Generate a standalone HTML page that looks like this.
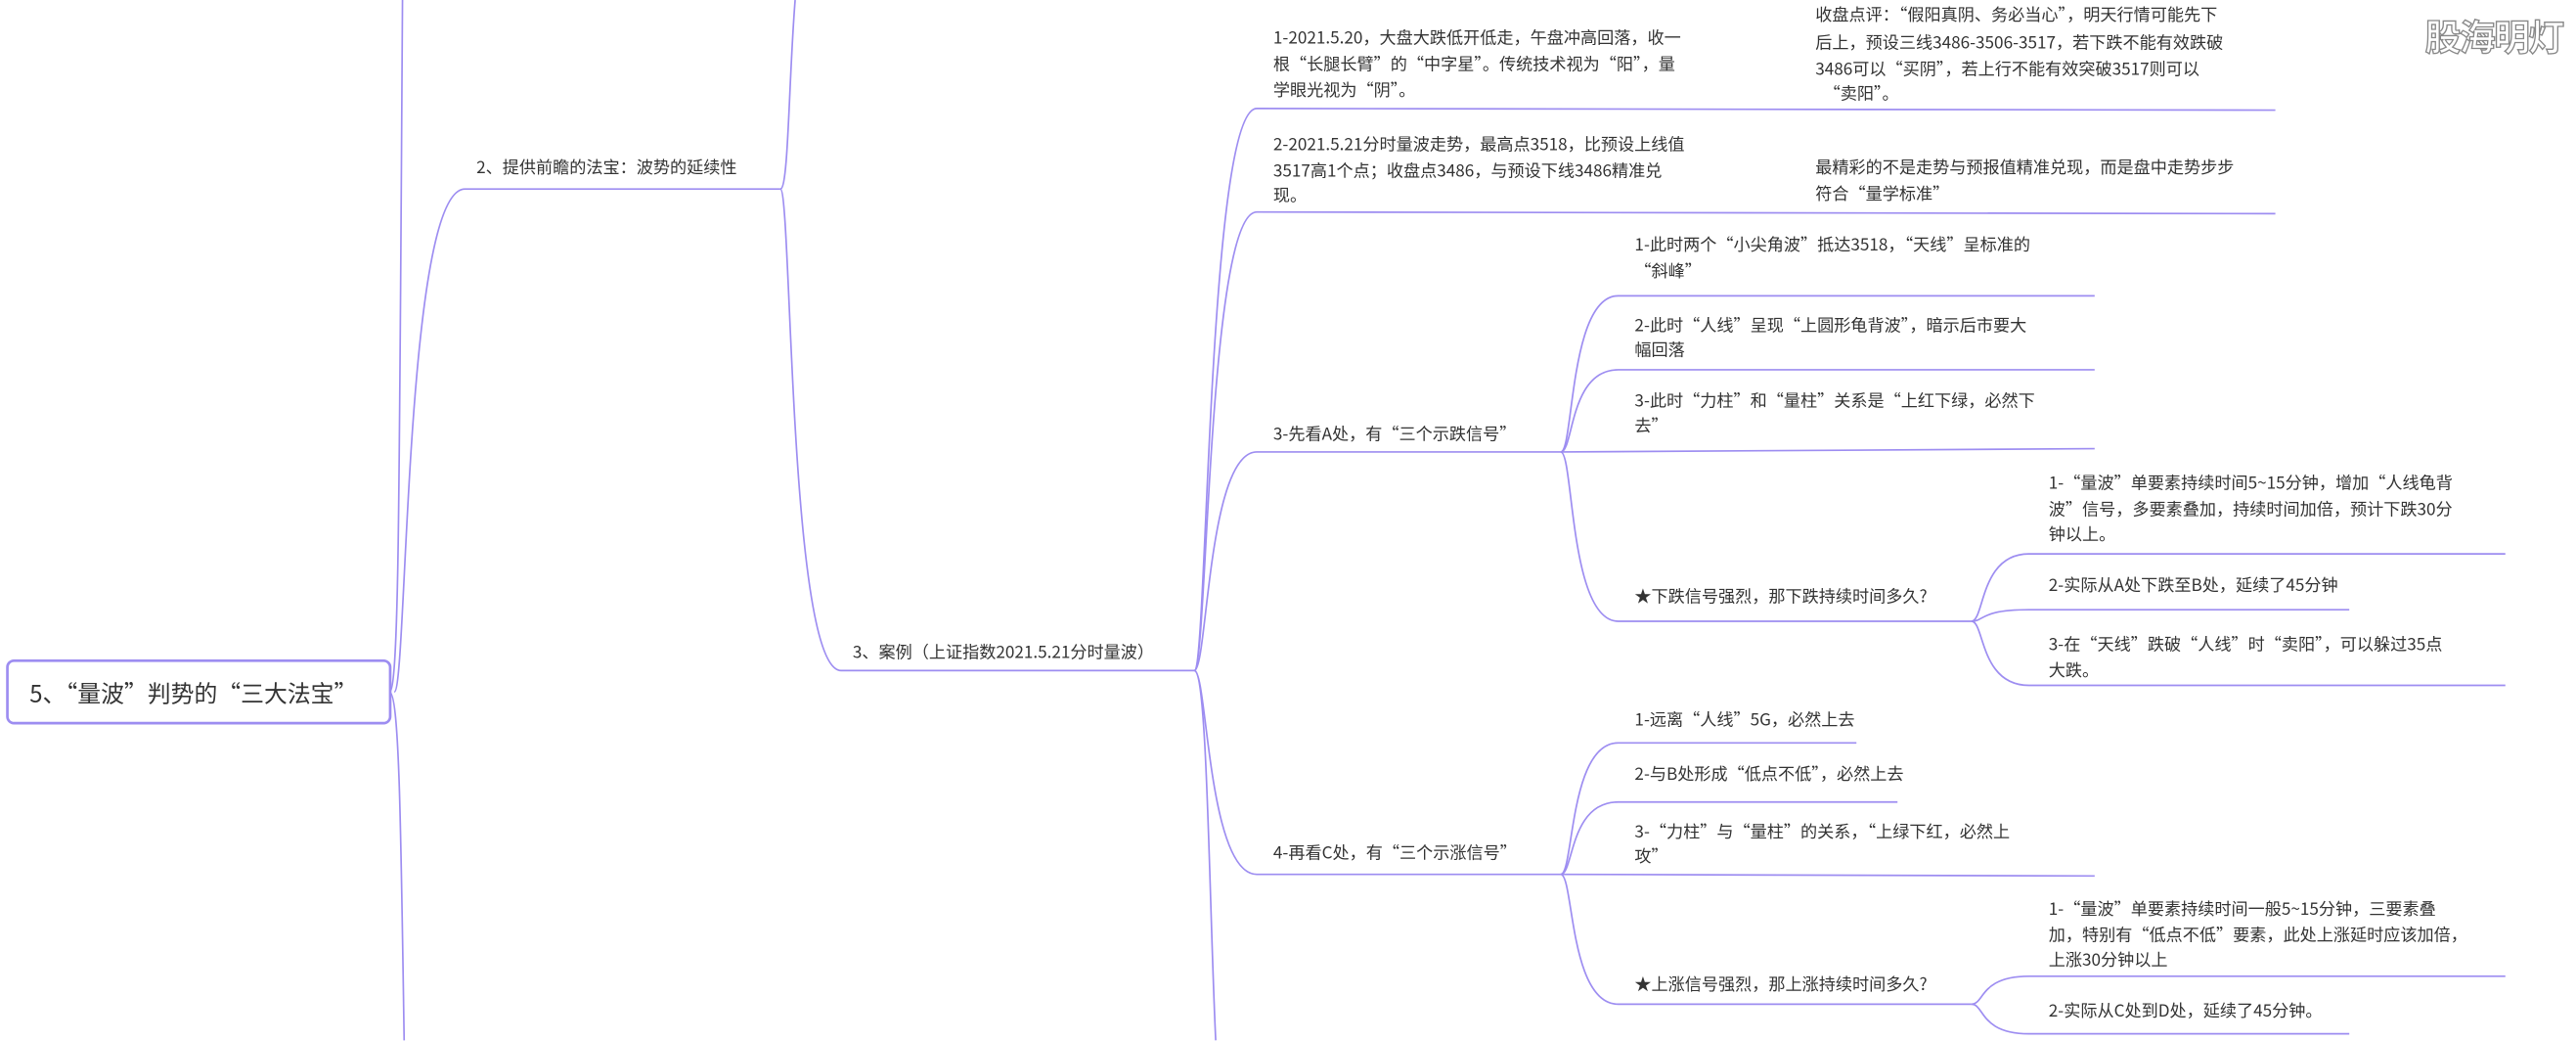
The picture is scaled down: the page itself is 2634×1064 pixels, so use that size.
<!DOCTYPE html>
<html><head><meta charset="utf-8"><style>
html,body{margin:0;padding:0;background:#fff;}
svg{display:block;}
text{font-family:"Noto Sans CJK SC","Liberation Sans",sans-serif;fill:#333;font-size:10.2px;dominant-baseline:central;}
.l{fill:none;stroke:#9d8df1;stroke-width:1;}
</style></head><body>
<svg width="2634" height="1064" viewBox="0 0 1568 633.4" preserveAspectRatio="none">
<path class="l" d="M237 421 C243 421 243 300 245 0"/>
<path class="l" d="M237 421 C243 421 244 500 246 633"/>
<path class="l" d="M240 421 C248 421 246 115 283 115 L475 115"/>
<rect x="4.5" y="402" width="233" height="38" rx="4" fill="#fff" stroke="#9d8df1" stroke-width="1.6"/>
<text x="18" y="421" style="font-size:14.2px">5、“量波”判势的“三大法宝”</text>
<text x="290" y="101">2、提供前瞻的法宝：波势的延续性</text>
<path class="l" d="M475 115 C480 115 480 50 484 0"/>
<path class="l" d="M475 115 C482 115 480 408 512 408 L727 408"/>
<text x="519" y="396">3、案例（上证指数2021.5.21分时量波）</text>
<path class="l" d="M727 408 C735 408 735 66 765 66 L1385 67"/>
<path class="l" d="M727 408 C735 408 735 129 765 129 L1385 130"/>
<path class="l" d="M727 408 C735 408 735 275 765 275 L950 275"/>
<path class="l" d="M727 408 C735 408 735 532 765 532 L950 532"/>
<path class="l" d="M727 408 C735 408 736 550 740 633"/>
<text x="775" y="22">1-2021.5.20，大盘大跌低开低走，午盘冲高回落，收一</text>
<text x="775" y="38">根“长腿长臂”的“中字星”。传统技术视为“阳”，量</text>
<text x="775" y="54">学眼光视为“阴”。</text>
<text x="1105" y="8">收盘点评：“假阳真阴、务必当心”，明天行情可能先下</text>
<text x="1105" y="25">后上，预设三线3486-3506-3517，若下跌不能有效跌破</text>
<text x="1105" y="41">3486可以“买阴”，若上行不能有效突破3517则可以</text>
<text x="1110" y="56">“卖阳”。</text>
<text x="775" y="87">2-2021.5.21分时量波走势，最高点3518，比预设上线值</text>
<text x="775" y="103">3517高1个点；收盘点3486，与预设下线3486精准兑</text>
<text x="775" y="118">现。</text>
<text x="1105" y="101">最精彩的不是走势与预报值精准兑现，而是盘中走势步步</text>
<text x="1105" y="117">符合“量学标准”</text>
<text x="775" y="263">3-先看A处，有“三个示跌信号”</text>
<text x="775" y="518">4-再看C处，有“三个示涨信号”</text>
<path class="l" d="M950 275 C958 275 955 180 985 180 L1275 180"/>
<path class="l" d="M950 275 C958 275 955 225 985 225 L1275 225"/>
<path class="l" d="M950 275 L1275 273"/>
<path class="l" d="M950 275 C958 275 955 378 985 378 L1200 378"/>
<text x="995" y="148">1-此时两个“小尖角波”抵达3518，“天线”呈标准的</text>
<text x="995" y="164">“斜峰”</text>
<text x="995" y="197">2-此时“人线”呈现“上圆形龟背波”，暗示后市要大</text>
<text x="995" y="212">幅回落</text>
<text x="995" y="243">3-此时“力柱”和“量柱”关系是“上红下绿，必然下</text>
<text x="995" y="258">去”</text>
<text x="995" y="362">★下跌信号强烈，那下跌持续时间多久?</text>
<path class="l" d="M1200 378 C1208 378 1205 337 1235 337 L1525 337"/>
<path class="l" d="M1200 378 C1208 378 1205 371 1235 371 L1430 371"/>
<path class="l" d="M1200 378 C1208 378 1205 417 1235 417 L1525 417"/>
<text x="1247" y="293">1-“量波”单要素持续时间5~15分钟，增加“人线龟背</text>
<text x="1247" y="309">波”信号，多要素叠加，持续时间加倍，预计下跌30分</text>
<text x="1247" y="324">钟以上。</text>
<text x="1247" y="355">2-实际从A处下跌至B处，延续了45分钟</text>
<text x="1247" y="391">3-在“天线”跌破“人线”时“卖阳”，可以躲过35点</text>
<text x="1247" y="407">大跌。</text>
<path class="l" d="M950 532 C958 532 955 452 985 452 L1130 452"/>
<path class="l" d="M950 532 C958 532 955 488 985 488 L1155 488"/>
<path class="l" d="M950 532 L1275 533"/>
<path class="l" d="M950 532 C958 532 955 611 985 611 L1200 611"/>
<text x="995" y="437">1-远离“人线”5G，必然上去</text>
<text x="995" y="470">2-与B处形成“低点不低”，必然上去</text>
<text x="995" y="505">3-“力柱”与“量柱”的关系，“上绿下红，必然上</text>
<text x="995" y="520">攻”</text>
<text x="995" y="598">★上涨信号强烈，那上涨持续时间多久?</text>
<path class="l" d="M1200 611 C1208 611 1205 594 1235 594 L1525 594"/>
<path class="l" d="M1200 611 C1208 611 1205 629 1235 629 L1430 629"/>
<text x="1247" y="552">1-“量波”单要素持续时间一般5~15分钟，三要素叠</text>
<text x="1247" y="568">加，特别有“低点不低”要素，此处上涨延时应该加倍，</text>
<text x="1247" y="583">上涨30分钟以上</text>
<text x="1247" y="614">2-实际从C处到D处，延续了45分钟。</text>
<text x="1476" y="21" style="font-size:22px;font-weight:bold;fill:#fff;stroke:#888;stroke-width:0.8;letter-spacing:-1px">股海明灯</text>
</svg>
</body></html>
